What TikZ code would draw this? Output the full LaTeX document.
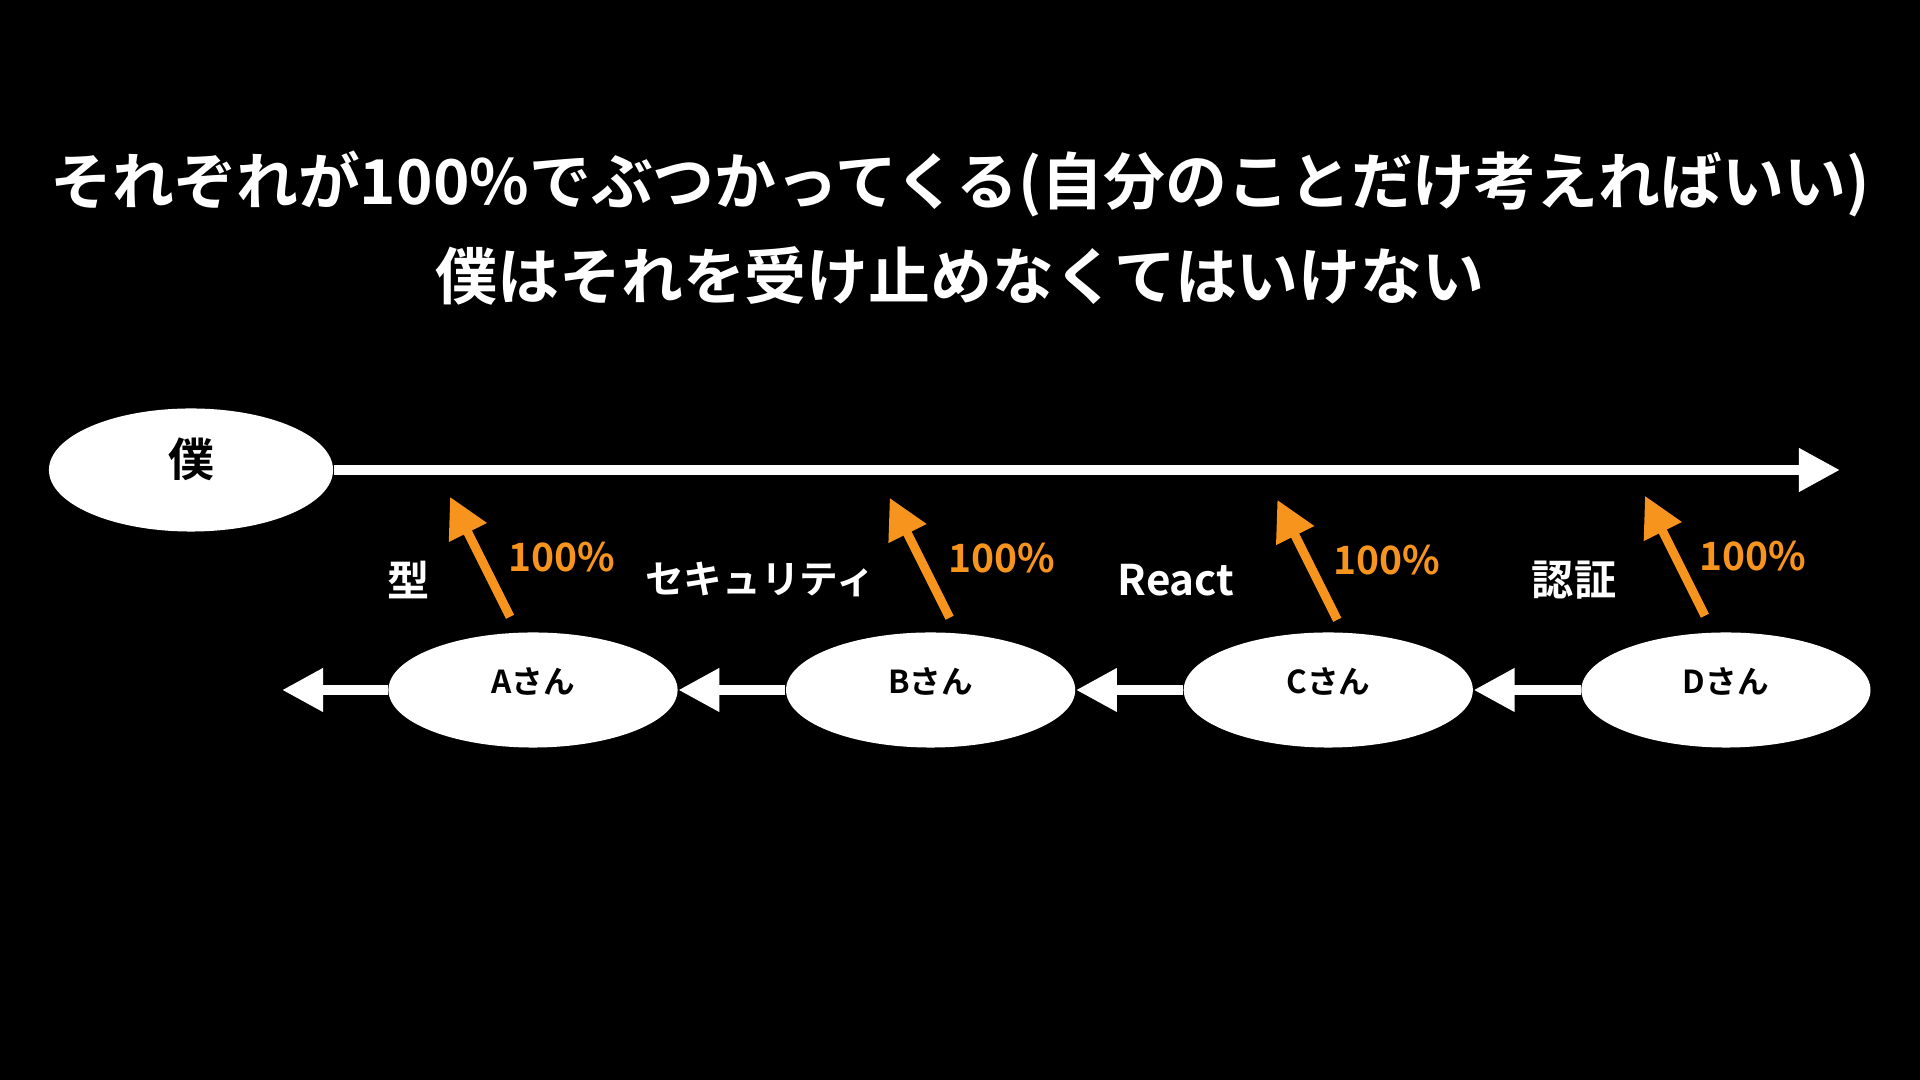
\documentclass[tikz,border=0pt]{standalone}
\usepackage{fontspec}
\setmainfont{Noto Sans CJK JP}[BoldFont={Noto Sans CJK JP Bold}]
\usetikzlibrary{arrows.meta,positioning,shapes.geometric}
\definecolor{hitO}{HTML}{F7941D}

\begin{document}
\begin{tikzpicture}[x=0.01cm,y=-0.01cm,
  bubble/.style={ellipse,fill=white,inner sep=0pt,text=black,font=\bfseries\fontsize{9pt}{10pt}\selectfont,minimum width=2.89cm,minimum height=1.15cm,text depth=0.19cm},
  flow/.style={draw=white,line width=0.1cm,-{Triangle[length=0.41cm,width=0.41cm]}},
  hit/.style={draw=hitO,line width=0.09cm,-{Triangle[length=0.40cm,width=0.40cm]}},
  pct/.style={text=hitO,inner sep=0pt,font=\bfseries\fontsize{11.1pt}{12pt}\selectfont},
  topic/.style={text=white,font=\bfseries\fontsize{12pt}{14pt}\selectfont},
  head/.style={text=white,font=\bfseries\fontsize{17.6pt}{20pt}\selectfont}]
\fill[black] (0,0) rectangle (1920,1080);
\node[head] (t1) at (960,184) {それぞれが100\%でぶつかってくる(自分のことだけ考えればいい)};
\node[head] (t2) at (960,276) {僕はそれを受け止めなくてはいけない};
% me and the time line
\node[bubble,minimum width=2.84cm,minimum height=1.23cm,text depth=0.25cm,font=\bfseries\fontsize{13pt}{14pt}\selectfont] (me) at (191,470) {僕};
\coordinate (lineEnd) at (1840,470);
\draw[flow] (me) -- (lineEnd);
% people
\node[bubble] (a) at (533,690) {Aさん};
\node[bubble,right=1.07cm of a] (b) {Bさん};
\node[bubble,right=1.07cm of b] (c) {Cさん};
\node[bubble,right=1.07cm of c] (d) {Dさん};
\coordinate (passEnd) at (282,690);
\draw[flow] (d) -- (c);
\draw[flow] (c) -- (b);
\draw[flow] (b) -- (a);
\draw[flow] (a) -- (passEnd);
% each one hits me at 100%
\draw[hit] ([shift={(-23,-15)}]a.north) -- node[pct,right=0.24cm] (pa) {100\%} ++(-60,-120);
\draw[hit] ([shift={(19,-14)}]b.north) -- node[pct,right=0.24cm] (pb) {100\%} ++(-60,-120);
\draw[hit] ([shift={(9,-12)}]c.north) -- node[pct,right=0.22cm] (pc) {100\%} ++(-60,-120);
\draw[hit] ([shift={(-21,-16)}]d.north) -- node[pct,right=0.2cm] (pd) {100\%} ++(-60,-120);
\node[topic] (ta) at (409,580) {型};
\node[topic,font=\bfseries\fontsize{11pt}{14pt}\selectfont] (tb) at (760,579) {セキュリティ};
\node[topic] (tc) at (1176,580) {React};
\node[topic] (td) at (1574,580) {認証};
\end{tikzpicture}
\end{document}
